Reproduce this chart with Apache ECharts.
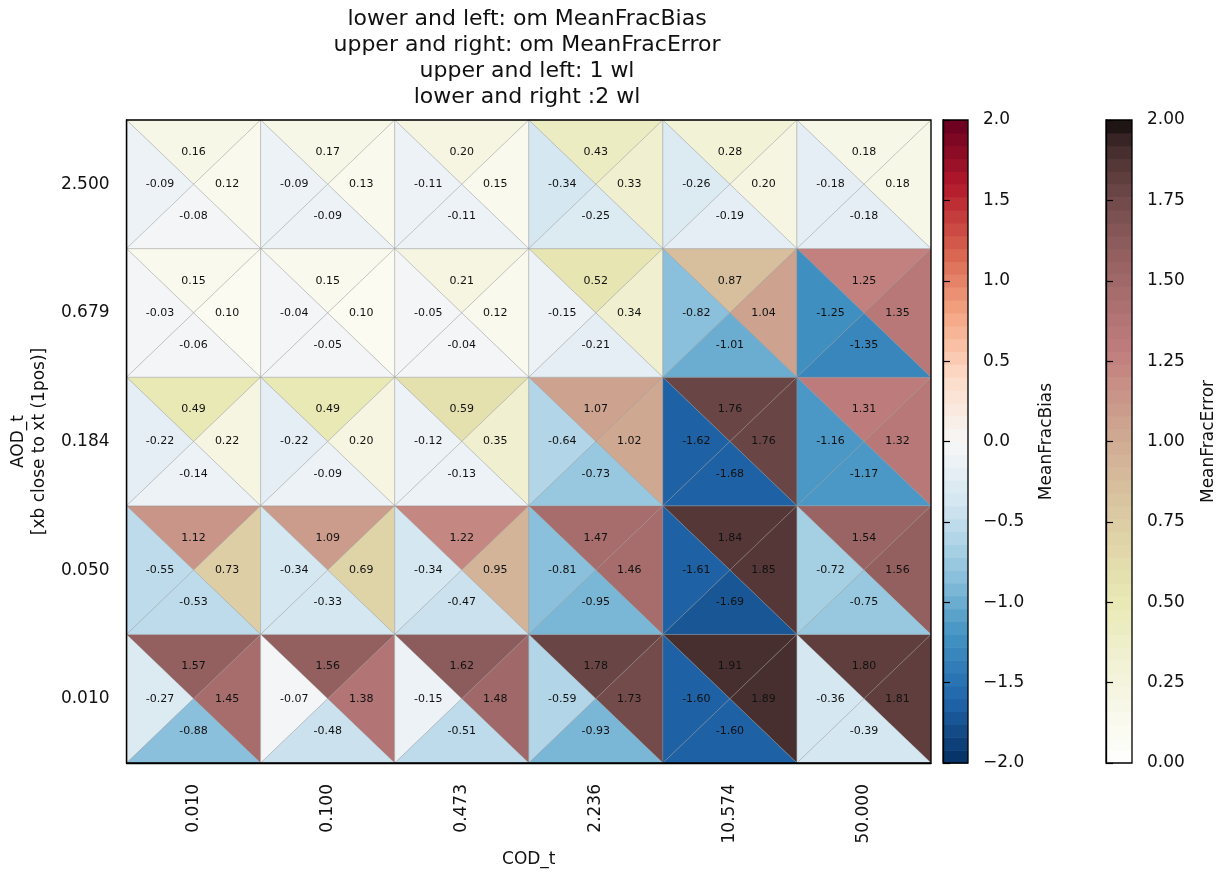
<!DOCTYPE html>
<html>
<head>
<meta charset="utf-8">
<script src="https://cdn.jsdelivr.net/npm/echarts@6/dist/echarts.min.js"></script>
<style>
html,body{margin:0;padding:0;background:#fff;}
#chart{width:1218px;height:874px;}
</style>
</head>
<body>
<div id="chart"></div>
<script>
// ---------------- DATA ----------------
const codLabels = ['0.010', '0.100', '0.473', '2.236', '10.574', '50.000'];
const aodLabels = ['0.010', '0.050', '0.184', '0.679', '2.500']; // bottom -> top

// rows ordered bottom (AOD 0.010) to top (AOD 2.500), columns by COD
const upperErr = [   // upper triangle: MeanFracError, wl 1
  [1.57, 1.56, 1.62, 1.78, 1.91, 1.80],
  [1.12, 1.09, 1.22, 1.47, 1.84, 1.54],
  [0.49, 0.49, 0.59, 1.07, 1.76, 1.31],
  [0.15, 0.15, 0.21, 0.52, 0.87, 1.25],
  [0.16, 0.17, 0.20, 0.43, 0.28, 0.18]
];
const leftBias = [   // left triangle: MeanFracBias, wl 1
  [-0.27, -0.07, -0.15, -0.59, -1.60, -0.36],
  [-0.55, -0.34, -0.34, -0.81, -1.61, -0.72],
  [-0.22, -0.22, -0.12, -0.64, -1.62, -1.16],
  [-0.03, -0.04, -0.05, -0.15, -0.82, -1.25],
  [-0.09, -0.09, -0.11, -0.34, -0.26, -0.18]
];
const rightErr = [   // right triangle: MeanFracError, wl 2
  [1.45, 1.38, 1.48, 1.73, 1.89, 1.81],
  [0.73, 0.69, 0.95, 1.46, 1.85, 1.56],
  [0.22, 0.20, 0.35, 1.02, 1.76, 1.32],
  [0.10, 0.10, 0.12, 0.34, 1.04, 1.35],
  [0.12, 0.13, 0.15, 0.33, 0.20, 0.18]
];
const lowerBias = [  // lower triangle: MeanFracBias, wl 2
  [-0.88, -0.48, -0.51, -0.93, -1.60, -0.39],
  [-0.53, -0.33, -0.47, -0.95, -1.69, -0.75],
  [-0.14, -0.09, -0.13, -0.73, -1.68, -1.17],
  [-0.06, -0.05, -0.04, -0.21, -1.01, -1.35],
  [-0.08, -0.09, -0.11, -0.25, -0.19, -0.18]
];

const titleLines = [
  'lower and left: om MeanFracBias',
  'upper and right: om MeanFracError',
  'upper and left: 1 wl',
  'lower and right :2 wl'
];

// ---------------- COLORMAPS ----------------
const NLEV = 50;
const rdbuR = ['#053061', '#2166ac', '#4393c3', '#92c5de', '#d1e5f0', '#f7f7f7',
               '#fddbc7', '#f4a582', '#d6604d', '#b2182b', '#67001f'];
function hex2rgb(h) { return [parseInt(h.substr(1,2),16), parseInt(h.substr(3,2),16), parseInt(h.substr(5,2),16)]; }
const rdbuRgb = rdbuR.map(hex2rgb);
function clamp01(t) { return Math.max(0, Math.min(1, t)); }
function quant(t) { t = clamp01(t); let i = Math.floor(t * NLEV); if (i >= NLEV) i = NLEV - 1; return (i + 0.5) / NLEV; }
function rgbStr(c) { return 'rgb(' + c.map(v => Math.round(v)).join(',') + ')'; }
function rdbuAt(t) {
  const p = t * (rdbuRgb.length - 1);
  const i = Math.min(rdbuRgb.length - 2, Math.floor(p));
  const f = p - i;
  const a = rdbuRgb[i], b = rdbuRgb[i + 1];
  return rgbStr([0,1,2].map(k => a[k] + (b[k] - a[k]) * f));
}
function pinkRAt(t) {
  const x = 1 - t;
  const hr = clamp01(x / 0.365079), hg = clamp01((x - 0.365079) / (0.746032 - 0.365079)), hb = clamp01((x - 0.746032) / (1 - 0.746032));
  return rgbStr([hr, hg, hb].map(h => 255 * Math.sqrt((2 * x + h) / 3)));
}
function biasColor(v) { return rdbuAt(quant((v + 2) / 4)); }
function errColor(v) { return pinkRAt(quant(v / 2)); }

// ---------------- BUILD ----------------
const cells = [];
for (let r = 0; r < aodLabels.length; r++) {
  for (let c = 0; c < codLabels.length; c++) {
    cells.push([c, r, upperErr[r][c], leftBias[r][c], rightErr[r][c], lowerBias[r][c]]);
  }
}

const FONT = '"DejaVu Sans", "Liberation Sans", sans-serif';
const EDGE = 'rgba(140,140,140,0.45)';

function tri(points, fill) {
  return { type: 'polygon', shape: { points: points }, style: { fill: fill, stroke: EDGE, lineWidth: 0.8 } };
}
function lbl(x, y, v) {
  return { type: 'text', x: x, y: y, style: { text: v.toFixed(2), fill: '#111', font: '11px ' + FONT, align: 'center', verticalAlign: 'middle' } };
}

function renderCell(params, api) {
  const ctr = api.coord([api.value(0), api.value(1)]);
  const sz = api.size([1, 1]);
  const hw = sz[0] / 2, hh = sz[1] / 2;
  const cx = ctr[0], cy = ctr[1];
  const TL = [cx - hw, cy - hh], TR = [cx + hw, cy - hh], BR = [cx + hw, cy + hh], BL = [cx - hw, cy + hh], C = [cx, cy];
  const up = api.value(2), lf = api.value(3), rt = api.value(4), lo = api.value(5);
  return {
    type: 'group',
    children: [
      tri([TL, TR, C], errColor(up)),
      tri([TL, BL, C], biasColor(lf)),
      tri([TR, BR, C], errColor(rt)),
      tri([BL, BR, C], biasColor(lo)),
      lbl(cx, cy - hh / 2, up),
      lbl(cx - hw / 2, cy, lf),
      lbl(cx + hw / 2, cy, rt),
      lbl(cx, cy + hh / 2, lo)
    ]
  };
}

function makeBarRenderer(vmin, vmax, colorFn) {
  return function (params, api) {
    const children = [];
    for (let i = 0; i < NLEV; i++) {
      const a = vmin + (vmax - vmin) * i / NLEV;
      const b = vmin + (vmax - vmin) * (i + 1) / NLEV;
      const p0 = api.coord([0, a]);
      const p1 = api.coord([1, b]);
      children.push({
        type: 'rect',
        shape: { x: p0[0], y: p1[1], width: p1[0] - p0[0], height: p0[1] - p1[1] + 0.6 },
        style: { fill: colorFn((i + 0.5) / NLEV) }
      });
    }
    return { type: 'group', children: children };
  };
}

const txt = { color: '#111', fontFamily: FONT };
const gridBorder = { show: true, borderColor: '#000', borderWidth: 1.3, backgroundColor: 'transparent', z: 10 };

const option = {
  animation: false,
  backgroundColor: '#fff',
  textStyle: { fontFamily: FONT },
  graphic: [{
    type: 'text', x: 527, y: 6,
    style: { text: titleLines.join('\n'), font: '22px ' + FONT, fill: '#111', align: 'center', lineHeight: 26 }
  }],
  grid: [
    Object.assign({ left: 126, top: 120, width: 805, height: 643 }, gridBorder),
    Object.assign({ left: 943, top: 120, width: 25, height: 643 }, gridBorder),
    Object.assign({ left: 1106, top: 120, width: 26, height: 643 }, gridBorder)
  ],
  xAxis: [
    {
      type: 'category', gridIndex: 0, data: codLabels, position: 'bottom', z: 11,
      axisLine: { lineStyle: { color: '#000', width: 1.3 } },
      axisTick: { alignWithLabel: true, length: 6, lineStyle: { color: '#000', width: 1.2 } },
      axisLabel: Object.assign({ rotate: 90, fontSize: 17, margin: 21 }, txt),
      name: 'COD_t', nameLocation: 'middle', nameGap: 88,
      nameTextStyle: Object.assign({ fontSize: 17 }, txt),
      splitLine: { show: false }
    },
    { type: 'value', gridIndex: 1, min: 0, max: 1, show: false },
    { type: 'value', gridIndex: 2, min: 0, max: 1, show: false }
  ],
  yAxis: [
    {
      type: 'category', gridIndex: 0, data: aodLabels, position: 'left', z: 11,
      axisLine: { lineStyle: { color: '#000', width: 1.3 } },
      axisTick: { alignWithLabel: true, length: 6, lineStyle: { color: '#000', width: 1.2 } },
      axisLabel: Object.assign({ fontSize: 17, margin: 17 }, txt),
      name: 'AOD_t\n[xb close to xt (1pos)]', nameLocation: 'middle', nameGap: 74, nameRotate: 90,
      nameTextStyle: Object.assign({ fontSize: 17, lineHeight: 21 }, txt),
      splitLine: { show: false }
    },
    {
      type: 'value', gridIndex: 1, min: -2, max: 2, interval: 0.5, position: 'right', z: 11,
      axisLine: { show: true, lineStyle: { color: '#000', width: 1.3 } },
      axisTick: { show: true, length: 7, lineStyle: { color: '#000', width: 1.2 } },
      axisLabel: Object.assign({ fontSize: 17, margin: 15, formatter: v => (v < 0 ? '\u2212' : '') + Math.abs(v).toFixed(1) }, txt),
      splitLine: { show: false },
      name: 'MeanFracBias', nameLocation: 'middle', nameGap: 70, nameRotate: 90,
      nameTextStyle: Object.assign({ fontSize: 17 }, txt)
    },
    {
      type: 'value', gridIndex: 2, min: 0, max: 2, interval: 0.25, position: 'right', z: 11,
      axisLine: { show: true, lineStyle: { color: '#000', width: 1.3 } },
      axisTick: { show: true, length: 7, lineStyle: { color: '#000', width: 1.2 } },
      axisLabel: Object.assign({ fontSize: 17, margin: 15, formatter: v => v.toFixed(2) }, txt),
      splitLine: { show: false },
      name: 'MeanFracError', nameLocation: 'middle', nameGap: 68, nameRotate: 90,
      nameTextStyle: Object.assign({ fontSize: 17 }, txt)
    }
  ],
  series: [
    {
      type: 'custom', xAxisIndex: 0, yAxisIndex: 0, data: cells,
      encode: { x: 0, y: 1 }, renderItem: renderCell, z: 2
    },
    {
      type: 'custom', xAxisIndex: 1, yAxisIndex: 1, data: [[0, 0]],
      encode: { x: 0, y: 1 }, renderItem: makeBarRenderer(-2, 2, rdbuAt), z: 2
    },
    {
      type: 'custom', xAxisIndex: 2, yAxisIndex: 2, data: [[0, 0]],
      encode: { x: 0, y: 1 }, renderItem: makeBarRenderer(0, 2, pinkRAt), z: 2
    }
  ]
};

const chart = echarts.init(document.getElementById('chart'), null, { renderer: 'canvas' });
chart.setOption(option);
</script>
</body>
</html>
